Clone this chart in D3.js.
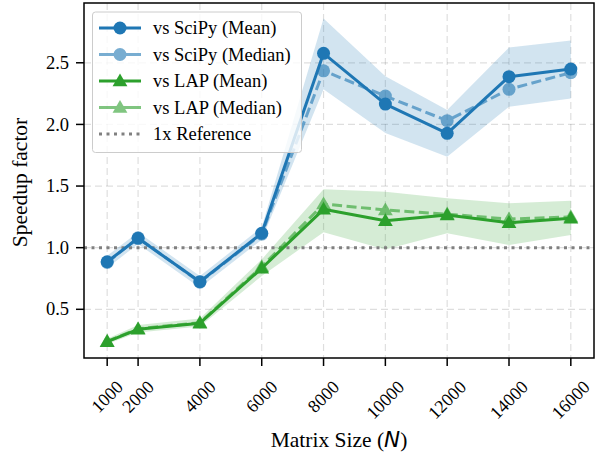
<!DOCTYPE html>
<html>
<head>
<meta charset="utf-8">
<script src="https://cdn.jsdelivr.net/npm/d3@7"></script>
<style>
  html, body { margin: 0; padding: 0; background: #fff; }
  svg { display: block; }
</style>
</head>
<body>
<svg id="chart" width="599" height="453"></svg>
<script>
// Matrix sizes and measured speedup factors
const sizes = [1000, 2000, 4000, 6000, 8000, 10000, 12000, 14000, 16000];
const scipyMean   = [0.886, 1.076, 0.724, 1.117, 2.577, 2.165, 1.928, 2.387, 2.449];
const scipyMedian = [0.880, 1.080, 0.720, 1.110, 2.435, 2.230, 2.030, 2.285, 2.420];
const scipyLow    = [0.835, 1.030, 0.675, 1.065, 2.285, 1.930, 1.738, 2.144, 2.210];
const scipyHigh   = [0.935, 1.125, 0.770, 1.165, 2.860, 2.390, 2.117, 2.625, 2.680];
const lapMean     = [0.238, 0.338, 0.387, 0.833, 1.311, 1.219, 1.265, 1.203, 1.238];
const lapMedian   = [0.240, 0.342, 0.392, 0.845, 1.354, 1.306, 1.272, 1.232, 1.250];
const lapLow      = [0.218, 0.312, 0.360, 0.770, 1.125, 0.985, 1.117, 1.022, 1.103];
const lapHigh     = [0.262, 0.372, 0.425, 0.905, 1.475, 1.454, 1.400, 1.360, 1.381];
const yTicks = [0.5, 1.0, 1.5, 2.0, 2.5];
const legendLabels = ["vs SciPy (Mean)", "vs SciPy (Median)", "vs LAP (Mean)", "vs LAP (Median)", "1x Reference"];

const blue = "#1f77b4", green = "#2ca02c", gray = "#808080";
const serif = "'Liberation Serif', 'Times New Roman', Times, serif";

const svg = d3.select("#chart").attr("font-family", serif);
const pLeft = 84, pRight = 594, pTop = 3, pBottom = 358;

const x = d3.scaleLinear().domain([250, 16750]).range([pLeft, pRight]);
const y = d3.scaleLinear().domain([0.105, 2.985]).range([pBottom, pTop]);

// Grid
const grid = svg.append("g");
grid.selectAll(".gx").data(sizes).join("line")
  .attr("x1", d => x(d)).attr("x2", d => x(d)).attr("y1", pTop).attr("y2", pBottom)
  .attr("stroke", "#000").attr("stroke-opacity", 0.13).attr("stroke-width", 1.2)
  .attr("stroke-dasharray", "7,4");
grid.selectAll(".gy").data(yTicks).join("line")
  .attr("y1", d => y(d)).attr("y2", d => y(d)).attr("x1", pLeft).attr("x2", pRight)
  .attr("stroke", "#000").attr("stroke-opacity", 0.13).attr("stroke-width", 1.2)
  .attr("stroke-dasharray", "7,4");

const plot = svg.append("g");

// Spread bands
const band = (lo, hi) => d3.area()
  .x((d, i) => x(sizes[i])).y0((d, i) => y(lo[i])).y1((d, i) => y(hi[i]))(sizes);
plot.append("path").attr("d", band(scipyLow, scipyHigh)).attr("fill", blue).attr("fill-opacity", 0.2);
plot.append("path").attr("d", band(lapLow, lapHigh)).attr("fill", green).attr("fill-opacity", 0.2);

// Reference line at 1x
plot.append("line").attr("x1", pLeft).attr("x2", pRight).attr("y1", y(1)).attr("y2", y(1))
  .attr("stroke", gray).attr("stroke-width", 3).attr("stroke-dasharray", "3,4.5");

const line = vals => d3.line().x((d, i) => x(sizes[i])).y((d, i) => y(vals[i]))(sizes);
const tri = d3.symbol().type(d3.symbolTriangle).size(95);

function series(vals, color, opacity, dashed, marker) {
  const g = plot.append("g").attr("opacity", opacity);
  g.append("path").attr("d", line(vals)).attr("fill", "none").attr("stroke", color)
    .attr("stroke-width", 3).attr("stroke-linejoin", "round")
    .attr("stroke-dasharray", dashed ? "10,4.5" : null);
  if (marker === "circle") {
    g.selectAll("circle").data(vals).join("circle")
      .attr("cx", (d, i) => x(sizes[i])).attr("cy", d => y(d)).attr("r", 6.5).attr("fill", color);
  } else {
    g.selectAll(".m").data(vals).join("path")
      .attr("d", tri).attr("transform", (d, i) => `translate(${x(sizes[i])},${y(d) + 1})`)
      .attr("fill", color);
  }
}
series(scipyMedian, blue, 0.6, true, "circle");
series(scipyMean, blue, 1, false, "circle");
series(lapMedian, green, 0.6, true, "triangle");
series(lapMean, green, 1, false, "triangle");

// Frame
svg.append("rect").attr("x", pLeft).attr("y", pTop).attr("width", pRight - pLeft).attr("height", pBottom - pTop)
  .attr("fill", "none").attr("stroke", "#000").attr("stroke-width", 1.5);

// Y axis ticks and labels
const yAxis = svg.append("g");
yAxis.selectAll("line").data(yTicks).join("line")
  .attr("x1", pLeft - 8).attr("x2", pLeft).attr("y1", d => y(d)).attr("y2", d => y(d))
  .attr("stroke", "#000").attr("stroke-width", 1.5);
yAxis.selectAll("text").data(yTicks).join("text")
  .attr("x", pLeft - 15).attr("y", d => y(d)).attr("dy", "0.33em")
  .attr("text-anchor", "end").attr("font-size", 18.5).text(d => d.toFixed(1));

// X axis ticks and rotated labels
const xAxis = svg.append("g");
xAxis.selectAll("line").data(sizes).join("line")
  .attr("x1", d => x(d)).attr("x2", d => x(d)).attr("y1", pBottom).attr("y2", pBottom + 8)
  .attr("stroke", "#000").attr("stroke-width", 1.5);
const fs = 18, c45 = Math.SQRT1_2;
xAxis.selectAll("text").data(sizes).join("text")
  .attr("font-size", fs).attr("text-anchor", "end").attr("dy", "0.33em")
  .text(d => d)
  .each(function(d) {
    const L = this.getComputedTextLength();
    const px = x(d) + L * c45 / 2;
    const py = pBottom + 26;
    d3.select(this).attr("transform", `translate(${px},${py}) rotate(-45)`);
  });

// Axis titles
const xt = svg.append("text").attr("x", (pLeft + pRight) / 2).attr("y", 447)
  .attr("text-anchor", "middle").attr("font-size", 21.5);
xt.append("tspan").text("Matrix Size (");
xt.append("tspan").attr("font-family", "DejaVu Sans").attr("font-style", "italic").text("N");
xt.append("tspan").text(")");
svg.append("text").attr("transform", `translate(27,${(pTop + pBottom) / 2 + 2}) rotate(-90)`)
  .attr("text-anchor", "middle").attr("font-size", 21.5).text("Speedup factor");

// Legend
const lg = svg.append("g");
lg.append("rect").attr("x", 92.5).attr("y", 12).attr("width", 209).attr("height", 140.5)
  .attr("rx", 3).attr("fill", "#fff").attr("fill-opacity", 0.8)
  .attr("stroke", "#ccc").attr("stroke-width", 1);
const rowY = i => 28 + i * 26.5;
const items = [
  { color: blue, op: 1, marker: "circle" },
  { color: blue, op: 0.6, marker: "circle" },
  { color: green, op: 1, marker: "triangle" },
  { color: green, op: 0.6, marker: "triangle" },
  { color: gray, op: 1, marker: null }
];
items.forEach((it, i) => {
  const g = lg.append("g").attr("opacity", it.op);
  const yy = rowY(i);
  if (it.marker) {
    g.append("line").attr("x1", 99).attr("x2", 141).attr("y1", yy).attr("y2", yy)
      .attr("stroke", it.color).attr("stroke-width", 3);
    if (it.marker === "circle") {
      g.append("circle").attr("cx", 120).attr("cy", yy).attr("r", 6.5).attr("fill", it.color);
    } else {
      g.append("path").attr("d", tri).attr("transform", `translate(120,${yy + 1})`).attr("fill", it.color);
    }
  } else {
    g.append("line").attr("x1", 99).attr("x2", 141).attr("y1", yy).attr("y2", yy)
      .attr("stroke", it.color).attr("stroke-width", 3).attr("stroke-dasharray", "3,4.5");
  }
  lg.append("text").attr("x", 153).attr("y", yy).attr("dy", "0.33em")
    .attr("font-size", 18.5).text(legendLabels[i]);
});
</script>
</body>
</html>
